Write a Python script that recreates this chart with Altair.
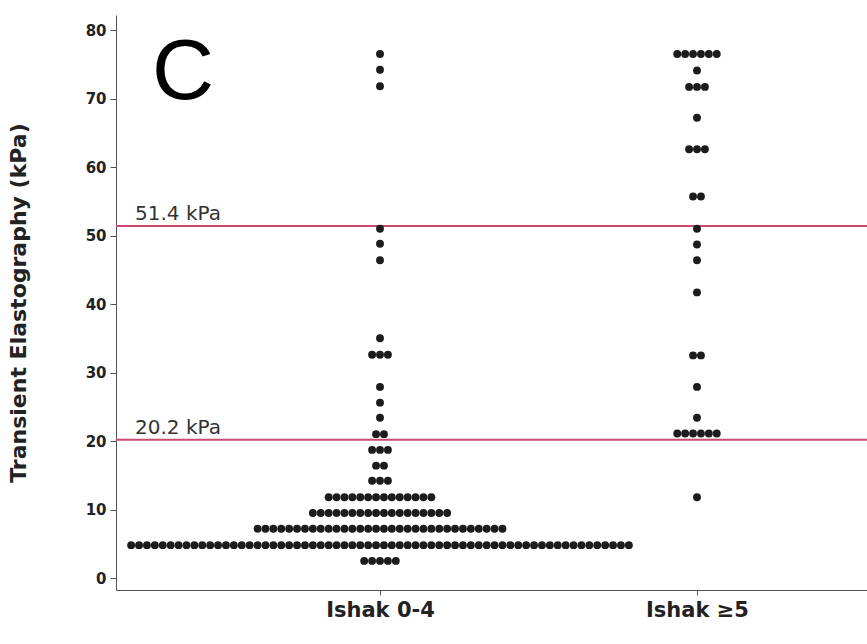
import altair as alt
import pandas as pd

# Group labels
groups = ["Ishak 0-4", "Ishak \u22655"]

# Ishak 0-4: kPa level of each dot row and number of patients in that row
ishak04_kpa = [2.5, 4.8, 7.2, 9.5, 11.8, 14.2, 16.4, 18.7, 21.0, 23.4,
               25.6, 27.9, 32.6, 35.0, 46.4, 48.8, 51.0, 71.8, 74.2, 76.5]
ishak04_count = [5, 64, 32, 18, 14, 3, 2, 3, 2, 1,
                 1, 1, 3, 1, 1, 1, 1, 1, 1, 1]

# Ishak >=5
ishak5_kpa = [11.8, 21.1, 23.4, 27.9, 32.5, 41.7, 46.4, 48.7, 51.0, 55.7,
              62.6, 67.2, 71.7, 74.1, 76.5]
ishak5_count = [1, 6, 1, 1, 2, 1, 1, 1, 1, 2,
                3, 1, 3, 1, 6]

# Cut-off lines
cutoff_kpa = [51.4, 20.2]
cutoff_label = ["51.4 kPa", "20.2 kPa"]

# Layout of the dot plot (horizontal units are pixels of the plot area)
PLOT_W, PLOT_H = 751, 575
group_center = [264, 581]
dot_step = 7.9

rows = []
for g, center, kpas, counts in [
    (groups[0], group_center[0], ishak04_kpa, ishak04_count),
    (groups[1], group_center[1], ishak5_kpa, ishak5_count),
]:
    for kpa, n in zip(kpas, counts):
        for i in range(n):
            rows.append({"group": g, "kpa": kpa,
                         "xpos": center + (i - (n - 1) / 2) * dot_step})
dots = pd.DataFrame(rows)
refs = pd.DataFrame({"kpa": cutoff_kpa, "label": cutoff_label})

mid = (group_center[0] + group_center[1]) / 2
label_expr = f"datum.value < {mid} ? '{groups[0]}' : '{groups[1]}'"

x_enc = alt.X(
    "xpos:Q",
    scale=alt.Scale(domain=[0, PLOT_W], nice=False, zero=False),
    axis=alt.Axis(values=group_center, labelExpr=label_expr, title=None,
                  grid=False, tickSize=5, labelPadding=4,
                  labelFont="DejaVu Sans", labelFontWeight="bold",
                  labelFontSize=21, labelColor="#222",
                  domainColor="#555", tickColor="#555"),
)
y_scale = alt.Scale(domain=[-1.75, 82.2], nice=False, zero=False)

points = alt.Chart(dots).mark_circle(size=62, color="#1c1c1c", opacity=1).encode(
    x=x_enc,
    y=alt.Y(
        "kpa:Q",
        scale=y_scale,
        axis=alt.Axis(values=list(range(0, 81, 10)), grid=False,
                      title="Transient Elastography (kPa)",
                      titleFont="DejaVu Sans", titleFontWeight="bold",
                      titleFontSize=22, titleColor="#222",
                      titleAngle=270, titleX=-98, titleY=PLOT_H / 2,
                      titleAlign="center", titleBaseline="middle",
                      tickSize=6, labelPadding=4,
                      labelFont="DejaVu Sans", labelFontWeight="bold",
                      labelFontSize=15, labelColor="#222",
                      domainColor="#555", tickColor="#555"),
    ),
)

lines = alt.Chart(refs).mark_rule(color="#cc4a70", strokeWidth=2).encode(
    y=alt.Y("kpa:Q", scale=y_scale)
)

line_text = alt.Chart(refs).mark_text(
    align="left", baseline="alphabetic", dy=-6,
    font="DejaVu Sans", fontSize=20, color="#333",
).encode(x=alt.value(19), y=alt.Y("kpa:Q", scale=y_scale), text="label:N")

panel = alt.Chart(pd.DataFrame({"t": ["C"]})).mark_text(
    align="center", baseline="alphabetic",
    font="Liberation Sans", fontSize=86, color="#000",
).encode(x=alt.value(67), y=alt.value(84), text="t:N")

chart = (
    alt.layer(lines, points, line_text, panel)
    .properties(
        width=PLOT_W, height=PLOT_H,
        autosize=alt.AutoSizeParams(type="none"),
        padding={"left": 116, "top": 15, "right": 0, "bottom": 54},
        background="white",
    )
    .configure_view(stroke=None)
)

chart.save("out.html", embed_options={"renderer": "svg", "actions": False})
